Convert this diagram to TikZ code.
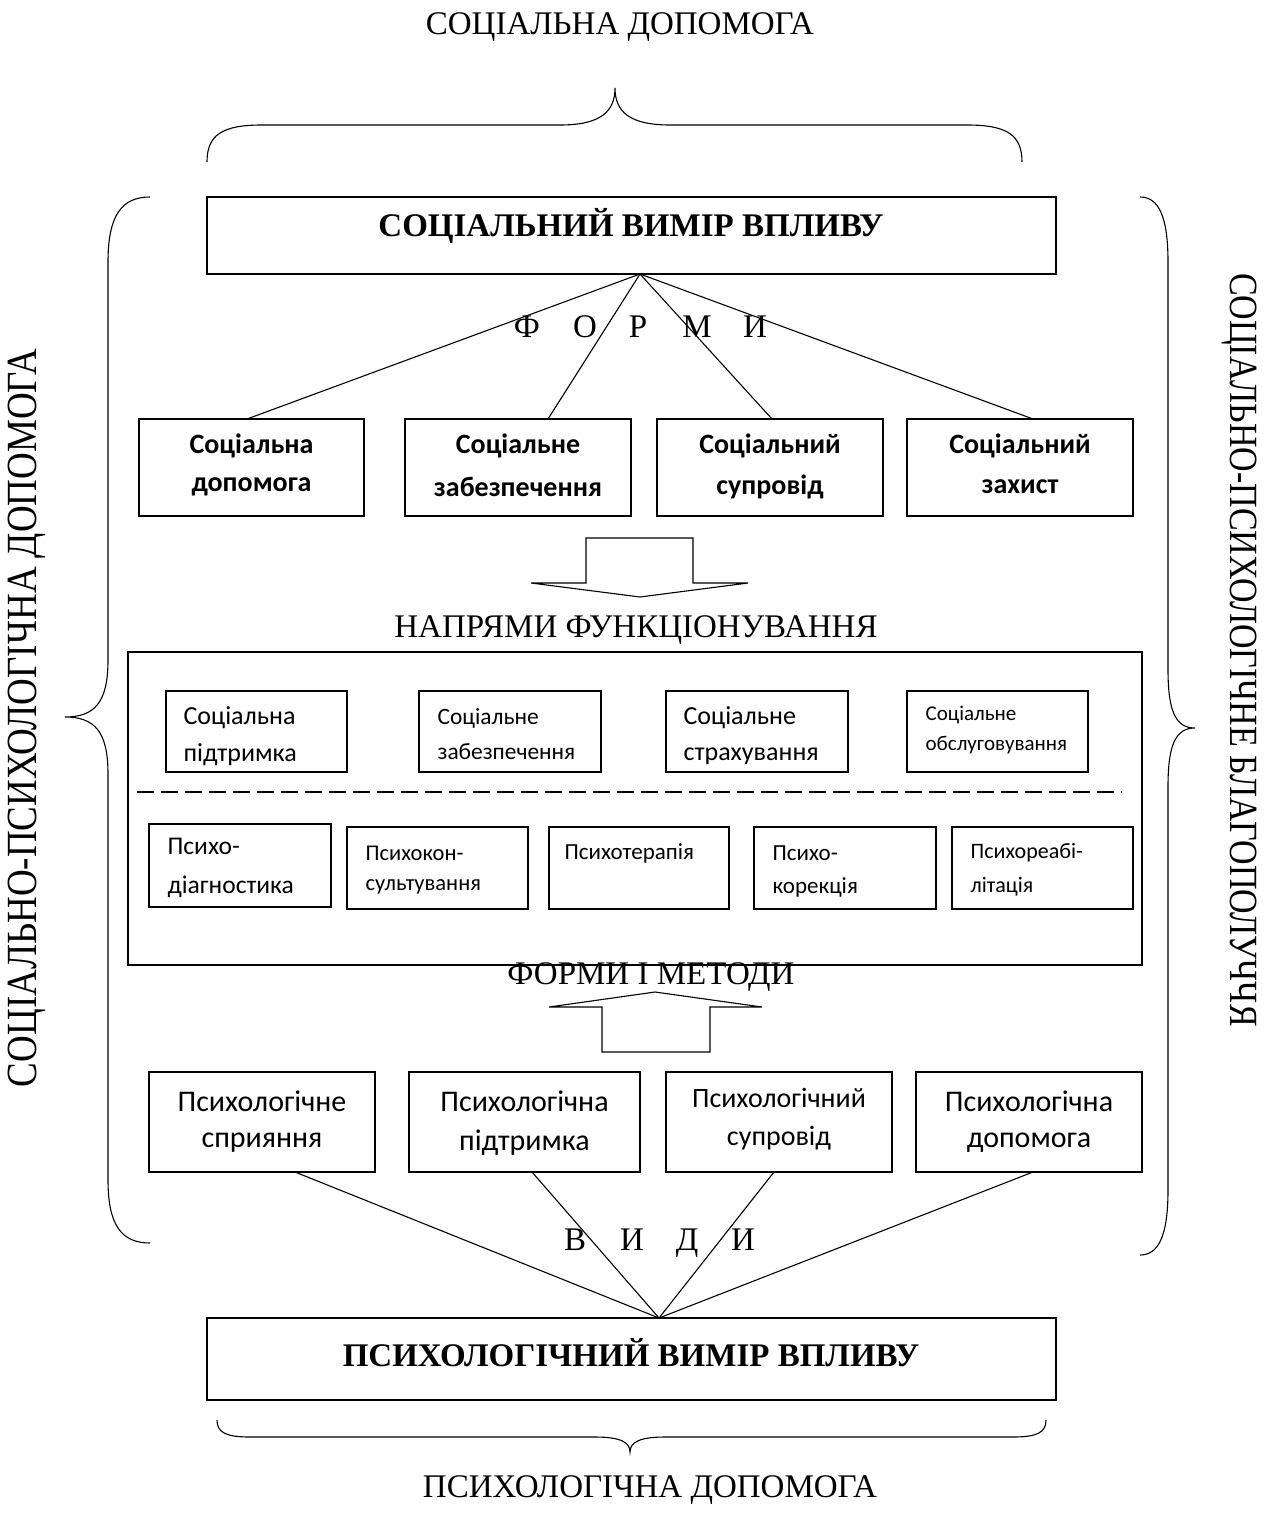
\documentclass[tikz,border=0pt]{standalone}
\usepackage{fontspec}
\setmainfont{Liberation Serif}
\newfontfamily\sansf{Carlito}
\begin{document}
\begin{tikzpicture}[x=1pt,y=-1pt,line width=1.2pt,
  box/.style={draw,line width=1.2pt,inner sep=0pt,minimum width=#1},
  serif/.style={font=\fontsize{33}{38}\selectfont,inner sep=0pt},
  letter/.style={font=\fontsize{33}{38}\selectfont,inner sep=0pt,anchor=base},
  titlef/.style={font=\fontsize{33}{38}\selectfont\bfseries,inner sep=0pt},
  bsans/.style={font=\fontsize{28}{32}\sansf\bfseries,inner sep=0pt},
  rsans/.style={font=\fontsize{#1}{#1}\sansf,inner sep=0pt},
  isans/.style={font=\fontsize{#1}{#1}\sansf,inner sep=0pt,anchor=west},
  sidecap/.style={inner sep=0pt,font=\fontsize{#1}{#1}\selectfont},
  link/.style={line width=1.1pt},
  brace/.style={line width=1.1pt},
  blockarrow/.style={line width=1.1pt}]
\useasboundingbox (0,0) rectangle (1265,1517);

% top caption and brace
\node[serif] (topcap) at (620,27) {СОЦІАЛЬНА ДОПОМОГА};
\draw[brace] (207,162) .. controls (207,135) and (222,125) .. (262,125) -- (560,125)
  .. controls (600,125) and (615,112) .. (615,88)
  .. controls (615,112) and (630,125) .. (670,125) -- (967,125)
  .. controls (1007,125) and (1022,135) .. (1022,162);

% top box
\node[box=849pt,minimum height=77pt] (sv) at (631.5,235.5) {};
\node[titlef] (svt) at (631,226) {СОЦІАЛЬНИЙ ВИМІР ВПЛИВУ};
\coordinate (apex1) at (640,274);

% forms row
\node[box=225pt,minimum height=97pt] (f1) at (251.5,467.5) {};
\node[box=226pt,minimum height=97pt] (f2) at (518,467.5) {};
\node[box=226pt,minimum height=97pt] (f3) at (770,467.5) {};
\node[box=226pt,minimum height=97pt] (f4) at (1020,467.5) {};
\node[bsans] at (251.5,446) {Соціальна};
\node[bsans] at (251.5,487) {допомога};
\node[bsans] at (518,446) {Соціальне};
\node[bsans] at (518,487) {забезпечення};
\node[bsans] at (770,446) {Соціальний};
\node[bsans] at (770,487) {супровід};
\node[bsans] at (1020,446) {Соціальний};
\node[bsans] at (1020,487) {захист};
\coordinate (f1t) at (247,419);
\coordinate (f2t) at (548,419);
\coordinate (f3t) at (772,419);
\coordinate (f4t) at (1033,419);
\draw[link] (apex1) -- (f1t);
\draw[link] (apex1) -- (f2t);
\draw[link] (apex1) -- (f3t);
\draw[link] (apex1) -- (f4t);
\foreach \x/\l in {527/Ф,585/О,638/Р,697/М,755/И}
  \node[letter] at (\x,337) {\l};

% down block arrow
\draw[blockarrow] (586,538) -- (693,538) -- (693,583) -- (748,583) -- (640,597)
  -- (531,583) -- (586,583) -- cycle;

\node[serif] (napr) at (636,630) {НАПРЯМИ ФУНКЦІОНУВАННЯ};

% big box
\node[box=1014pt,minimum height=313pt] (big) at (635,808.5) {};

% inner row 1
\node[box=181pt,minimum height=81pt] (s1) at (256.5,731.5) {};
\node[box=182pt,minimum height=81pt] (s2) at (510,731.5) {};
\node[box=182pt,minimum height=81pt] (s3) at (757,731.5) {};
\node[box=181pt,minimum height=81pt] (s4) at (997.5,731.5) {};
\begin{scope}
\clip (166,691) rectangle (347,771);
\node[isans=26] at (183,718) {Соціальна};
\node[isans=26] at (183,755) {підтримка};
\end{scope}
\node[isans=23.4] at (437,718) {Соціальне};
\node[isans=23.4] at (437,752) {забезпечення};
\begin{scope}
\clip (666,691) rectangle (848,771);
\node[isans=26] at (683,718) {Соціальне};
\node[isans=26] at (683,756) {страхування};
\end{scope}
\node[isans=21] at (925,715) {Соціальне};
\node[isans=21] at (925,745) {обслуговування};

% dashed separator
\coordinate (dl) at (137,792);
\coordinate (dr) at (1122,792);
\draw[line width=2.6pt,dash pattern=on 17pt off 7pt] (dl) -- (dr);

% inner row 2
\node[box=182pt,minimum height=83pt] (p1) at (240,865.5) {};
\node[box=181pt,minimum height=82pt] (p2) at (437.5,868) {};
\node[box=180pt,minimum height=82pt] (p3) at (639,868) {};
\node[box=182pt,minimum height=82pt] (p4) at (845,868) {};
\node[box=181pt,minimum height=82pt] (p5) at (1042.5,868) {};
\node[isans=25.5] at (167,846) {Психо-};
\node[isans=25.5] at (167,887) {діагностика};
\node[isans=22.5] at (365,853) {Психокон-};
\node[isans=22.5] at (365,887) {сультування};
\node[isans=23] at (564,853) {Психотерапія};
\node[isans=23] at (772,853) {Психо-};
\node[isans=23] at (772,887) {корекція};
\node[isans=22] at (970,853) {Психореабі-};
\node[isans=22] at (970,887) {літація};

\node[serif] (fm) at (651,977) {ФОРМИ І МЕТОДИ};

% up block arrow
\draw[blockarrow] (602,1052) -- (710,1052) -- (710,1007) -- (762,1007) -- (655,992)
  -- (549,1007) -- (602,1007) -- cycle;

% bottom row
\node[box=226pt,minimum height=100pt] (q1) at (262,1122) {};
\node[box=231pt,minimum height=100pt] (q2) at (524.5,1122) {};
\node[box=226pt,minimum height=100pt] (q3) at (779,1122) {};
\node[box=226pt,minimum height=100pt] (q4) at (1029,1122) {};
\node[rsans=30] at (262,1101) {Психологічне};
\node[rsans=30] at (262,1143) {сприяння};
\node[rsans=30] at (524.5,1101) {Психологічна};
\node[rsans=30] at (524.5,1143) {підтримка};
\node[rsans=28] at (779,1098) {Психологічний};
\node[rsans=28] at (779,1138) {супровід};
\node[rsans=30] at (1029,1101) {Психологічна};
\node[rsans=30] at (1029,1143) {допомога};
\coordinate (q1b) at (295,1172);
\coordinate (q2b) at (532,1172);
\coordinate (q3b) at (774,1172);
\coordinate (q4b) at (1033,1172);
\coordinate (apex2) at (659,1318);
\draw[link] (q1b) -- (apex2);
\draw[link] (q2b) -- (apex2);
\draw[link] (q3b) -- (apex2);
\draw[link] (q4b) -- (apex2);
\foreach \x/\l in {575/В,632/И,687/Д,743/И}
  \node[letter] at (\x,1250) {\l};

% bottom box
\node[box=849pt,minimum height=82pt] (pv) at (631.5,1359) {};
\node[titlef] (pvt) at (631,1353) {ПСИХОЛОГІЧНИЙ ВИМІР ВПЛИВУ};

% bottom brace and caption
\draw[brace] (217,1420) .. controls (217,1432) and (225,1437) .. (250,1437) -- (595,1437)
  .. controls (620,1437) and (630,1442) .. (630,1452)
  .. controls (630,1442) and (640,1437) .. (665,1437) -- (1013,1437)
  .. controls (1038,1437) and (1046,1432) .. (1046,1420);
\node[serif] (botcap) at (650,1490) {ПСИХОЛОГІЧНА ДОПОМОГА};

% left brace and caption
\draw[brace] (150,197) .. controls (122,197) and (108,215) .. (108,262) -- (108,660)
  .. controls (108,702) and (95,717) .. (65,717)
  .. controls (95,717) and (108,732) .. (108,774) -- (108,1180)
  .. controls (108,1226) and (122,1243) .. (150,1243);
\node[sidecap=43,rotate=90] (lcap) at (27,718) {\scalebox{0.86}[1]{СОЦІАЛЬНО-ПСИХОЛОГІЧНА ДОПОМОГА}};

% right brace and caption
\draw[brace] (1140,197) .. controls (1158,197) and (1168,215) .. (1168,262) -- (1168,670)
  .. controls (1168,712) and (1176,728) .. (1195,728)
  .. controls (1176,728) and (1168,744) .. (1168,786) -- (1168,1190)
  .. controls (1168,1237) and (1158,1255) .. (1140,1255);
\node[sidecap=40,rotate=-90] (rcap) at (1239,650) {\scalebox{0.85}[1]{СОЦІАЛЬНО-ПСИХОЛОГІЧНЕ БЛАГОПОЛУЧЧЯ}};
\end{tikzpicture}
\end{document}
